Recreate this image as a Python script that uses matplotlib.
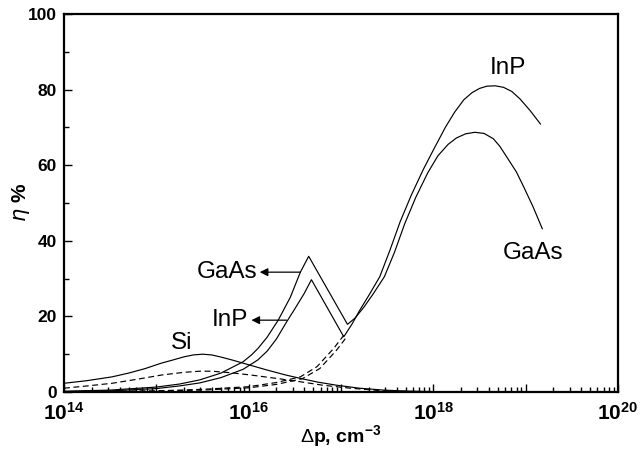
import numpy as np
import matplotlib
matplotlib.use("Agg")
import matplotlib.pyplot as plt
from matplotlib.ticker import LogLocator, NullFormatter, FixedLocator, MultipleLocator

plt.rcParams['font.family'] = ['Liberation Sans', 'DejaVu Sans']
plt.rcParams['mathtext.fontset'] = 'custom'
plt.rcParams['mathtext.rm'] = 'Liberation Sans'
plt.rcParams['mathtext.bf'] = 'Liberation Sans:bold'

# curves: log10(dp) exponents and efficiency in %
si_lx = [14.0, 14.25, 14.52, 14.7, 14.88, 15.05, 15.17, 15.3, 15.4, 15.5, 15.6, 15.69,
         15.83, 16.0, 16.2, 16.4, 16.56, 16.75, 16.95, 17.2, 17.46, 17.7, 18.0]
si_eta = [2.3, 3.0, 4.0, 5.0, 6.2, 7.6, 8.4, 9.3, 9.8, 10.0, 9.8, 9.3,
          8.4, 7.2, 5.8, 4.5, 3.6, 2.6, 1.8, 1.0, 0.5, 0.25, 0.1]

si_dash_lx = [14.0, 14.25, 14.52, 14.8, 15.06, 15.3, 15.47, 15.6, 15.8, 16.02, 16.3,
              16.56, 16.8, 17.1, 17.46, 17.8]
si_dash_eta = [1.0, 1.6, 2.3, 3.4, 4.5, 5.2, 5.5, 5.5, 5.1, 4.5, 3.6,
               2.7, 1.8, 1.0, 0.3, 0.1]

gaas_lx = [14.0, 14.5, 15.0, 15.25, 15.47, 15.7, 15.94, 16.03, 16.1, 16.2, 16.32, 16.45,
           16.56, 16.65, 17.07, 17.15, 17.25, 17.35, 17.47, 17.58, 17.69, 17.81, 17.94,
           18.05, 18.16, 18.25, 18.35, 18.45, 18.55, 18.65, 18.72, 18.8, 18.9, 18.98,
           19.08, 19.18]
gaas_eta = [0.2, 0.5, 1.3, 2.1, 3.2, 5.0, 8.0, 9.8, 11.5, 14.5, 19.0, 25.0,
            31.7, 35.9, 17.9, 19.5, 22.5, 26.0, 30.5, 37.0, 44.5, 51.5, 58.0,
            62.5, 65.5, 67.2, 68.3, 68.7, 68.4, 67.0, 65.0, 62.0, 58.2, 54.2,
            49.0, 43.2]

inp_lx = [14.0, 14.5, 15.0, 15.25, 15.47, 15.7, 15.94, 16.1, 16.2, 16.3, 16.41, 16.5,
          16.6, 16.68, 17.03, 17.12, 17.2, 17.3, 17.42, 17.53, 17.64, 17.76, 17.89,
          18.0, 18.13, 18.23, 18.33, 18.42, 18.5, 18.58, 18.67, 18.76, 18.85, 18.94,
          19.05, 19.16]
inp_eta = [0.1, 0.3, 0.9, 1.6, 2.4, 3.8, 6.0, 8.5, 10.8, 14.0, 18.5, 22.0,
           26.0, 29.7, 14.6, 18.0, 21.5, 25.5, 30.5, 37.5, 45.0, 52.0, 58.8,
           64.0, 70.0, 74.0, 77.3, 79.2, 80.3, 80.9, 81.0, 80.6, 79.5, 77.5,
           74.4, 70.9]

gaas_dash_lx = [14.0, 15.0, 15.5, 16.0, 16.3, 16.56, 16.74, 16.92, 17.03]
gaas_dash_eta = [0.05, 0.3, 0.7, 1.4, 2.5, 4.0, 6.7, 11.5, 15.0]

inp_dash_lx = [14.0, 15.0, 15.5, 16.0, 16.3, 16.58, 16.77, 16.95, 17.05]
inp_dash_eta = [0.05, 0.2, 0.5, 1.1, 2.0, 3.5, 6.2, 11.0, 14.2]


def dp(lx):
    return np.power(10.0, lx)


fig = plt.figure(figsize=(6.44, 4.54), dpi=100)
ax = fig.add_axes([0.0994, 0.1366, 0.8602, 0.8326])

lw = 0.85
ax.plot(dp(si_lx), si_eta, color='black', lw=lw)
ax.plot(dp(gaas_lx), gaas_eta, color='black', lw=lw)
ax.plot(dp(inp_lx), inp_eta, color='black', lw=lw)
for lx, eta in [(si_dash_lx, si_dash_eta), (gaas_dash_lx, gaas_dash_eta),
                (inp_dash_lx, inp_dash_eta)]:
    ax.plot(dp(lx), eta, color='black', lw=lw, dashes=(5, 3))

ax.set_xscale('log')
ax.set_xlim(1e14, 1e20)
ax.set_ylim(0, 100)

# ticks
ax.xaxis.set_major_locator(FixedLocator([1e14, 1e15, 1e16, 1e17, 1e18, 1e19, 1e20]))
ax.xaxis.set_minor_locator(LogLocator(base=10, subs=np.arange(2, 10), numticks=20))
ax.xaxis.set_minor_formatter(NullFormatter())
ax.set_xticklabels([r'$\mathbf{10^{14}}$', '', r'$\mathbf{10^{16}}$', '',
                    r'$\mathbf{10^{18}}$', '', r'$\mathbf{10^{20}}$'])
ax.yaxis.set_major_locator(MultipleLocator(20))
ax.yaxis.set_minor_locator(MultipleLocator(10))
ax.tick_params(which='both', direction='in', top=False, right=False)
ax.tick_params(which='major', length=6, width=1.0, pad=6)
ax.tick_params(axis='x', which='major', labelsize=15, pad=7)
ax.tick_params(axis='y', which='major', labelsize=12.5, pad=5)
ax.tick_params(which='minor', length=3.5, width=1.0)
for lab in ax.get_yticklabels():
    lab.set_fontweight('bold')
for sp in ax.spines.values():
    sp.set_linewidth(1.6)

ax.set_xlabel(r'$\Delta$p, cm$^{\mathbf{-3}}$', fontsize=14, fontweight='bold', labelpad=0)
ax.set_ylabel(r'$\eta$ %', fontsize=15, fontweight='bold')
ax.yaxis.set_label_coords(-0.058, 0.5)

# labels and arrows
fs = 17.5
ax.text(dp(15.27), 12.9, 'Si', fontsize=fs, ha='center', va='center')
ax.text(dp(18.81), 85.8, 'InP', fontsize=fs, ha='center', va='center')
ax.text(dp(19.08), 36.9, 'GaAs', fontsize=fs, ha='center', va='center')
ax.text(dp(16.09), 31.7, 'GaAs', fontsize=fs, ha='right', va='center')
ax.text(dp(15.99), 19.0, 'InP', fontsize=fs, ha='right', va='center')
arrow = dict(arrowstyle='-|>', color='black', lw=0.9, mutation_scale=12,
             shrinkA=0, shrinkB=0)
ax.annotate('', xy=(dp(16.12), 31.7), xytext=(dp(16.56), 31.7), arrowprops=arrow)
ax.annotate('', xy=(dp(16.03), 19.0), xytext=(dp(16.41), 19.0), arrowprops=arrow)

fig.savefig('out.png', dpi=100)
